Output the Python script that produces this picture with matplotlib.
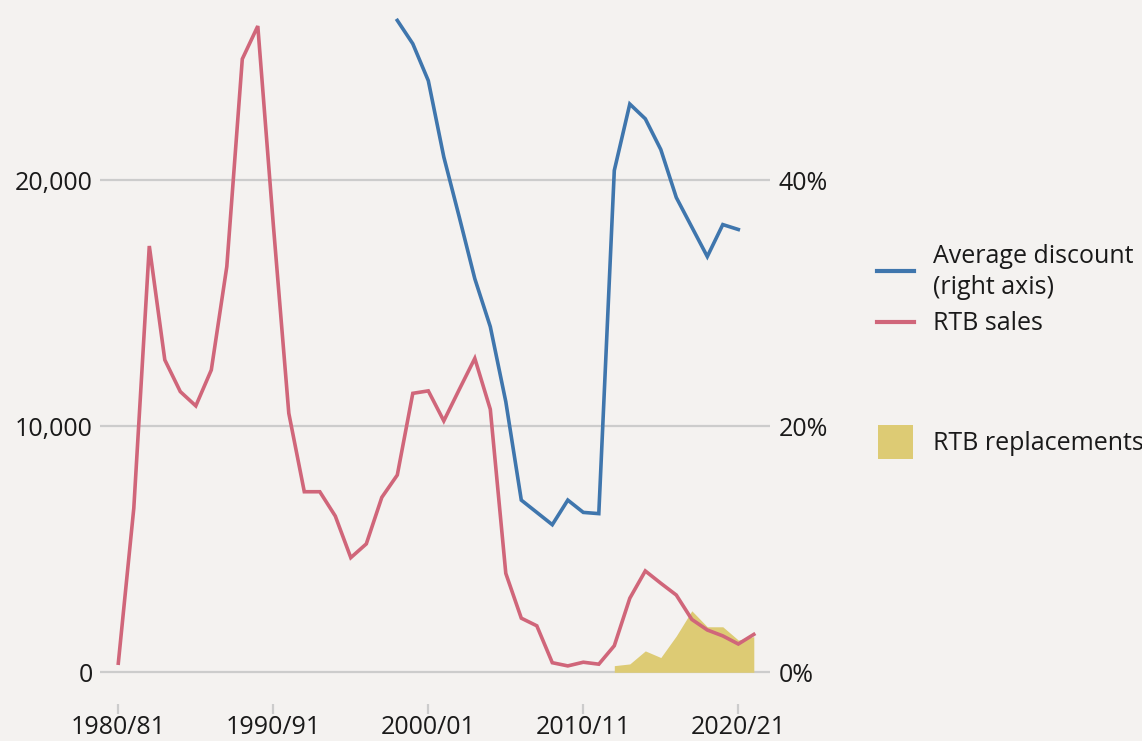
import matplotlib
matplotlib.use("Agg")
import matplotlib.pyplot as plt
from matplotlib.lines import Line2D
from matplotlib.patches import Rectangle

# ---- data ----
sales_years = list(range(1980, 2022))
rtb_sales = [370, 6670, 17330, 12700, 11410, 10830, 12290, 16490, 24930, 26270,
             18200, 10530, 7340, 7340, 6350, 4660, 5220, 7110, 8020, 11340,
             11440, 10220, 11500, 12760, 10690, 4020, 2200, 1890, 390, 260,
             410, 330, 1080, 3010, 4120, 3620, 3140, 2150, 1720, 1480,
             1150, 1540]

discount_years = list(range(1998, 2021))
avg_discount = [53.0, 51.1, 48.1, 41.9, 37.0, 32.0, 28.1, 22.0, 14.0, 13.0,
                12.0, 14.0, 13.0, 12.9, 40.8, 46.2, 45.0, 42.5, 38.6, 36.2,
                33.8, 36.4, 36.0]

repl_years = list(range(2012, 2022))
rtb_replacements = [270, 340, 870, 600, 1480, 2500, 1850, 1850, 1310, 1450]

xtick_pos = [1980, 1990, 2000, 2010, 2020]
xtick_labels = ["1980/81", "1990/91", "2000/01", "2010/11", "2020/21"]
left_ticks = [0, 10000, 20000]
left_labels = ["0", "10,000", "20,000"]
right_ticks = [0, 20, 40]
right_labels = ["0%", "20%", "40%"]

# ---- style ----
BG = "#f4f2f0"
RED = "#d0667a"
BLUE = "#3f76ad"
YELLOW = "#ddcb74"
GRID = "#cccccc"
TXT = "#1a1a1a"
FS = 18

plt.rcParams['font.family'] = ['Open Sans', 'DejaVu Sans']

W, H = 1142, 741
fig = plt.figure(figsize=(W / 100, H / 100), dpi=100, facecolor=BG)

ax_l, ax_r, ax_top, ax_bot = 100, 770, 0, 704
ax = fig.add_axes([ax_l / W, 1 - ax_bot / H, (ax_r - ax_l) / W, (ax_bot - ax_top) / H])
ax.set_facecolor(BG)

px_per_year = 15.5
x0 = 118.3
ax.set_xlim(1980 - (x0 - ax_l) / px_per_year, 1980 + (ax_r - x0) / px_per_year)
y0px = 672.3
px_per_k = 24.6
ymax = (y0px - ax_top) / px_per_k * 1000
ymin = -(ax_bot - y0px) / px_per_k * 1000
ax.set_ylim(ymin, ymax)

ax2 = ax.twinx()
ax2.set_ylim(ymin / 500, ymax / 500)

for a in (ax, ax2):
    for s in a.spines.values():
        s.set_visible(False)

for v in left_ticks:
    ax.axhline(v, color=GRID, lw=1.6, zorder=1)

ax.fill_between(repl_years, 0, rtb_replacements, color=YELLOW, lw=0, zorder=2)
ax.plot(sales_years, rtb_sales, color=RED, lw=2.6, zorder=3, solid_joinstyle='miter')
ax2.plot(discount_years, avg_discount, color=BLUE, lw=2.6, zorder=3, solid_joinstyle='miter')

ax.set_xticks(xtick_pos)
ax.set_xticklabels(xtick_labels, fontsize=FS, color=TXT)
ax.tick_params(axis='x', length=7, width=1.6, color=GRID, pad=1)
ax.set_yticks(left_ticks)
ax.set_yticklabels(left_labels, fontsize=FS, color=TXT)
ax.tick_params(axis='y', length=0, pad=5)
ax2.set_yticks(right_ticks)
ax2.set_yticklabels(right_labels, fontsize=FS, color=TXT)
ax2.tick_params(axis='y', length=0, pad=6)

# ---- legend (manual) ----
def fx(p):
    return p / W

def fy(p):
    return 1 - p / H

fig.add_artist(Line2D([fx(877), fx(914)], [fy(271), fy(271)], color=BLUE, lw=3,
                      transform=fig.transFigure))
fig.text(fx(933), fy(272), "Average discount\n(right axis)", fontsize=FS, color=TXT,
         va='center', ha='left', linespacing=1.3)
fig.add_artist(Line2D([fx(877), fx(914)], [fy(322), fy(322)], color=RED, lw=3,
                      transform=fig.transFigure))
fig.text(fx(933), fy(323), "RTB sales", fontsize=FS, color=TXT, va='center', ha='left')
fig.add_artist(Rectangle((fx(878), fy(459)), fx(35), 34 / H, color=YELLOW, lw=0,
                         transform=fig.transFigure))
fig.text(fx(933), fy(443), "RTB replacements", fontsize=FS, color=TXT, va='center', ha='left')

fig.savefig("out.png", dpi=100, facecolor=BG)
